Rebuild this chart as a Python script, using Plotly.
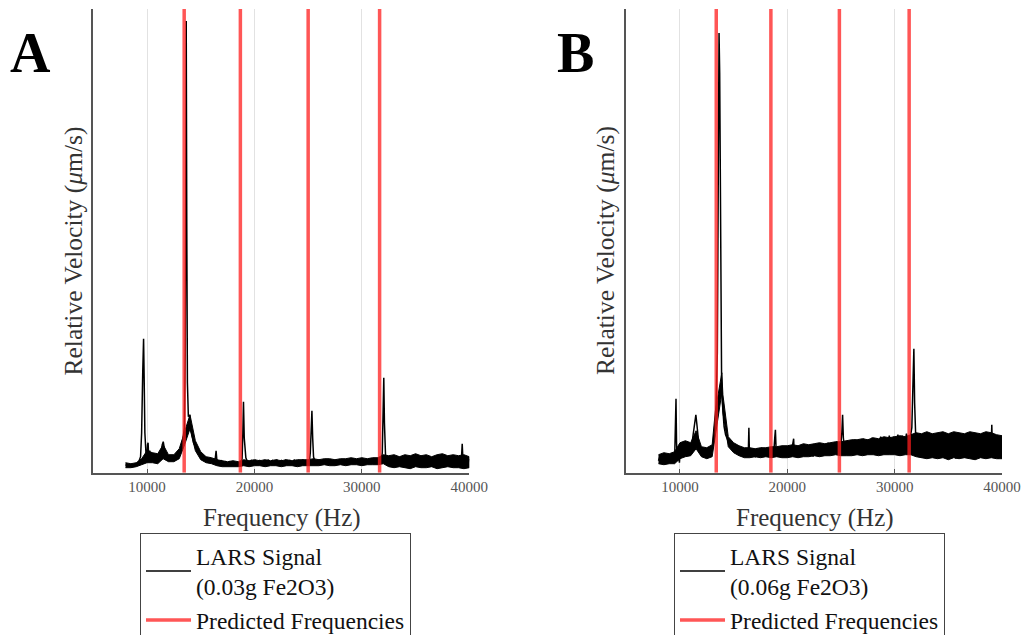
import plotly.graph_objects as go

# ---------------- data ----------------
# LARS signal, panel A (0.03 g Fe2O3): frequency (Hz) and relative velocity
freq_a = [
    8000, 8200, 8400, 8600, 8800, 9000, 9200, 9400, 9500, 9600,
    9680, 9740, 9800, 9900, 10000, 10050, 10100, 10150, 10250, 10350,
    10450, 10550, 10650, 10750, 10850, 10950, 11050, 11150, 11300, 11420,
    11510, 11600, 11700, 11800, 11900, 12000, 12150, 12300, 12450, 12600,
    12750, 12900, 13050, 13200, 13350, 13480, 13560, 13610, 13650, 13700,
    13760, 13850, 13950, 14050, 14200, 14330, 14600, 14800, 15000, 15200,
    15400, 15600, 15800, 16000, 16200, 16350, 16430, 16500, 16700, 16900,
    17100, 17300, 17500, 17700, 17900, 18100, 18300, 18500, 18700, 18850,
    18920, 18980, 19050, 19200, 19350, 19500, 19700, 19900, 20100, 20300,
    20500, 20700, 20900, 21100, 21300, 21500, 21700, 21900, 22100, 22300,
    22500, 22700, 22900, 23100, 23300, 23500, 23700, 23900, 24100, 24300,
    24500, 24700, 24900, 25100, 25200, 25280, 25350, 25420, 25500, 25600,
    25800, 26000, 26200, 26400, 26600, 26800, 27000, 27200, 27400, 27600,
    27800, 28000, 28200, 28400, 28600, 28800, 29000, 29200, 29400, 29600,
    29800, 30000, 30200, 30400, 30600, 30800, 31000, 31200, 31400, 31600,
    31800, 31900, 31980, 32040, 32100, 32200, 32300, 32500, 32700, 32900,
    33100, 33300, 33500, 33700, 33900, 34100, 34300, 34500, 34700, 34900,
    35100, 35300, 35500, 35700, 35900, 36100, 36300, 36500, 36700, 36900,
    37100, 37300, 37500, 37700, 37900, 38100, 38300, 38500, 38700, 38900,
    39100, 39250, 39340, 39420, 39600, 39800, 40000,
]
vel_a = [
    8, 7, 8, 7, 8, 9, 10, 16, 40, 100,
    134, 90, 40, 20, 17, 28, 30, 18, 22, 14,
    20, 13, 19, 14, 18, 12, 17, 15, 20, 28,
    31, 25, 16, 13, 15, 12, 15, 12, 15, 13,
    15, 17, 20, 26, 34, 45, 120, 300, 452, 250,
    90, 56, 58, 45, 36, 30, 24, 20, 18, 16,
    15, 13, 14, 12, 13, 14, 22, 13, 11, 12,
    9, 11, 9, 11, 9, 10, 8, 10, 9, 14,
    40, 71, 35, 15, 11, 9, 12, 8, 12, 9,
    12, 8, 12, 9, 13, 8, 12, 9, 13, 8,
    12, 9, 13, 9, 12, 8, 13, 9, 12, 9,
    13, 9, 12, 10, 20, 45, 62, 35, 16, 12,
    9, 13, 8, 12, 9, 13, 9, 12, 8, 13,
    9, 12, 9, 13, 9, 12, 10, 14, 9, 13,
    10, 14, 9, 13, 10, 14, 9, 14, 10, 15,
    11, 20, 60, 95, 50, 18, 15, 7, 16, 8,
    15, 7, 16, 8, 15, 6, 16, 8, 15, 7,
    16, 8, 15, 7, 16, 8, 15, 6, 16, 8,
    15, 7, 16, 8, 15, 7, 16, 8, 15, 7,
    16, 10, 29, 10, 15, 6, 14,
]

# Noise envelope of signal A (min / max of the dense trace)
band_freq_a = [
    8000, 8500, 9000, 9500, 10000, 10500, 11000, 11500, 12000, 12500,
    13000, 13500, 14000, 14500, 15000, 15500, 16000, 16500, 17000, 17500,
    18000, 18500, 19000, 19500, 20000, 20500, 21000, 21500, 22000, 22500,
    23000, 23500, 24000, 24500, 25000, 25500, 26000, 26500, 27000, 27500,
    28000, 28500, 29000, 29500, 30000, 30500, 31000, 31500, 32000, 32500,
    33000, 33500, 34000, 34500, 35000, 35500, 36000, 36500, 37000, 37500,
    38000, 38500, 39000, 39500, 40000,
]
band_lo_a = [
    5, 5, 6, 8, 10, 10, 9, 14, 11, 11,
    14, 28, 44, 22, 13, 10, 9, 7, 6, 6,
    6, 6, 7, 6, 7, 7, 6, 7, 7, 6,
    7, 7, 6, 7, 7, 7, 7, 8, 7, 7,
    8, 7, 8, 8, 7, 8, 8, 8, 9, 6,
    5, 6, 5, 4, 6, 5, 5, 6, 4, 5,
    6, 5, 5, 4, 5,
]
band_hi_a = [
    10, 9, 10, 14, 22, 20, 19, 28, 18, 18,
    24, 42, 58, 32, 21, 16, 15, 13, 12, 11,
    12, 11, 13, 12, 13, 12, 13, 12, 13, 12,
    13, 12, 13, 13, 13, 14, 13, 14, 14, 13,
    14, 14, 15, 14, 15, 14, 15, 15, 18, 17,
    18, 16, 18, 17, 19, 17, 18, 16, 18, 19,
    17, 18, 17, 18, 16,
]

# LARS signal, panel B (0.06 g Fe2O3)
freq_b = [
    8000, 8150, 8300, 8450, 8600, 8750, 8900, 9050, 9200, 9350,
    9500, 9580, 9630, 9680, 9750, 9850, 9950, 10050, 10150, 10250,
    10350, 10450, 10550, 10650, 10750, 10850, 10950, 11050, 11200, 11350,
    11480, 11580, 11700, 11800, 11900, 12000, 12150, 12300, 12450, 12600,
    12750, 12900, 13050, 13200, 13340, 13480, 13580, 13640, 13700, 13760,
    13820, 13880, 13950, 14110, 14250, 14400, 14550, 14800, 15000, 15300,
    15650, 15900, 16100, 16300, 16370, 16420, 16470, 16600, 16800, 16900,
    17000, 17200, 17400, 17600, 17800, 18000, 18200, 18400, 18600, 18750,
    18830, 18890, 18950, 19050, 19250, 19450, 19650, 19850, 20050, 20250,
    20450, 20540, 20590, 20640, 20800, 21000, 21200, 21400, 21600, 21800,
    22000, 22200, 22400, 22600, 22800, 23000, 23200, 23400, 23600, 23800,
    24000, 24200, 24400, 24600, 24800, 25000, 25080, 25150, 25220, 25350,
    25500, 25700, 25900, 26100, 26300, 26500, 26700, 26900, 27100, 27300,
    27500, 27700, 27900, 28100, 28300, 28500, 28700, 28900, 29100, 29300,
    29500, 29700, 29900, 30100, 30300, 30500, 30700, 30900, 31100, 31300,
    31500, 31600, 31720, 31790, 31860, 31950, 32100, 32300, 32500, 32700,
    32900, 33100, 33300, 33500, 33700, 33900, 34100, 34300, 34500, 34700,
    34900, 35100, 35300, 35500, 35700, 35900, 36100, 36300, 36500, 36700,
    36900, 37100, 37300, 37500, 37700, 37900, 38100, 38300, 38500, 38700,
    38900, 39000, 39050, 39100, 39250, 39450, 39650, 39850, 40000,
]
vel_b = [
    12, 17, 10, 16, 9, 15, 10, 16, 11, 17,
    12, 40, 74, 30, 12, 18, 10, 25, 30, 20,
    27, 19, 26, 18, 24, 20, 28, 24, 35, 50,
    58, 48, 30, 24, 19, 22, 17, 23, 16, 21,
    18, 22, 26, 36, 56, 120, 300, 440, 400, 250,
    130, 90, 70, 46, 38, 33, 30, 27, 25, 23,
    21, 17, 24, 16, 22, 45, 19, 16, 24, 17,
    16, 24, 17, 25, 16, 24, 17, 25, 17, 22,
    35, 43, 25, 16, 24, 16, 25, 16, 26, 17,
    25, 30, 34, 20, 17, 26, 16, 27, 17, 26,
    17, 28, 16, 27, 18, 29, 17, 28, 19, 30,
    18, 29, 20, 31, 19, 30, 40, 58, 35, 22,
    31, 20, 32, 21, 33, 20, 32, 22, 34, 21,
    33, 23, 35, 22, 34, 24, 36, 23, 35, 24,
    37, 23, 36, 25, 38, 24, 37, 26, 39, 25,
    38, 45, 95, 124, 70, 40, 26, 39, 15, 38,
    16, 39, 15, 37, 17, 39, 14, 38, 16, 39,
    15, 37, 17, 39, 14, 38, 16, 37, 15, 39,
    17, 38, 14, 37, 16, 39, 15, 38, 17, 37,
    15, 30, 48, 25, 16, 37, 14, 36, 18,
]

band_freq_b = [
    8000, 8500, 9000, 9500, 10000, 10500, 11000, 11500, 12000, 12500,
    13000, 13300, 13900, 14000, 14500, 15000, 15500, 16000, 16500, 17000,
    17500, 18000, 18500, 19000, 19500, 20000, 20500, 21000, 21500, 22000,
    22500, 23000, 23500, 24000, 24500, 25000, 25500, 26000, 26500, 27000,
    27500, 28000, 28500, 29000, 29500, 30000, 30500, 31000, 31500, 32000,
    32500, 33000, 33500, 34000, 34500, 35000, 35500, 36000, 36500, 37000,
    37500, 38000, 38500, 39000, 39500, 40000,
]
band_lo_b = [
    9, 8, 9, 9, 14, 16, 17, 24, 16, 14,
    16, 40, 80, 60, 26, 20, 17, 15, 15, 16,
    15, 16, 15, 16, 15, 15, 16, 15, 16, 16,
    17, 16, 17, 17, 18, 17, 17, 17, 18, 17,
    18, 18, 17, 18, 18, 18, 17, 18, 18, 16,
    15, 14, 15, 14, 15, 13, 15, 14, 15, 14,
    13, 15, 14, 15, 14, 14,
]
band_hi_b = [
    18, 20, 19, 21, 30, 32, 30, 42, 26, 25,
    28, 62, 100, 78, 36, 30, 27, 25, 25, 24,
    25, 25, 26, 26, 27, 27, 28, 27, 29, 28,
    29, 30, 29, 30, 31, 31, 32, 33, 33, 34,
    33, 35, 34, 36, 35, 36, 37, 36, 38, 40,
    39, 41, 39, 40, 41, 39, 41, 40, 39, 41,
    40, 39, 41, 40, 38, 37,
]

predicted_a = [13460, 18690, 25000, 31650]
predicted_b = [13380, 18470, 24850, 31350]

x_ticks = [10000, 20000, 30000, 40000]
y_max = 464

panel_labels = ["A", "B"]
legend_labels = ["(0.03g Fe2O3)", "(0.06g Fe2O3)"]
x_title = "Frequency (Hz)"
y_title = "Relative Velocity (<i>μ</i>m/s)"

assert len(freq_a) == len(vel_a) and len(freq_b) == len(vel_b)
assert len(band_freq_a) == len(band_lo_a) == len(band_hi_a)
assert len(band_freq_b) == len(band_lo_b) == len(band_hi_b)

# ---------------- figure ----------------
FONT = "Liberation Serif"
RED = "rgba(255, 30, 30, 0.75)"
W, H = 1025, 635


def vlines(xs):
    xx, yy = [], []
    for x in xs:
        xx += [x, x, None]
        yy += [0, y_max, None]
    return xx, yy


fig = go.Figure()

panels = [
    ("x", "y", "legend", freq_a, vel_a, band_freq_a, band_lo_a, band_hi_a, predicted_a, legend_labels[0]),
    ("x2", "y2", "legend2", freq_b, vel_b, band_freq_b, band_lo_b, band_hi_b, predicted_b, legend_labels[1]),
]
for xa, ya, lg, fx, vy, bf, blo, bhi, pred, label in panels:
    # noise band (envelope of the dense signal)
    fig.add_trace(go.Scatter(
        x=list(bf) + list(bf)[::-1], y=list(bhi) + list(blo)[::-1],
        xaxis=xa, yaxis=ya, mode="lines", fill="toself",
        fillcolor="black", line=dict(color="black", width=1),
        showlegend=False, hoverinfo="skip", legend=lg,
    ))
    fig.add_trace(go.Scatter(
        x=fx, y=vy, xaxis=xa, yaxis=ya, mode="lines",
        line=dict(color="black", width=1.5),
        name="LARS Signal<br>" + label, legend=lg,
    ))
    px, py = vlines(pred)
    fig.add_trace(go.Scatter(
        x=px, y=py, xaxis=xa, yaxis=ya, mode="lines",
        line=dict(color=RED, width=3.5),
        name="Predicted Frequencies", legend=lg,
    ))

xcommon = dict(
    range=[5000, 40000], tickvals=x_ticks, tickformat="d",
    showgrid=True, gridcolor="#e2e2e2", gridwidth=1,
    showline=True, linecolor="#555", linewidth=1.5,
    ticks="inside", ticklen=4, tickcolor="#555",
    tickfont=dict(family=FONT, size=15, color="#555"),
    zeroline=False, fixedrange=True, automargin=False,
)
ycommon = dict(
    range=[0, y_max], domain=[1 - 472.7 / H, 1 - 9 / H],
    showticklabels=False, ticks="", showgrid=False, automargin=False,
    showline=True, linecolor="#555", linewidth=1.5, zeroline=False, fixedrange=True,
)

legcommon = dict(
    yanchor="top", xanchor="left", y=1 - 533 / H,
    bgcolor="white", bordercolor="#444", borderwidth=1,
    font=dict(family=FONT, size=23.5, color="#111"),
    itemwidth=45, tracegroupgap=0,
)

title_font_x = dict(family=FONT, size=25, color="#333")
title_font_y = dict(family=FONT, size=25.5, color="#333")
annotations = []
for lab, lx, xt_x, yt_x in [(panel_labels[0], 30, 282, 72.5), (panel_labels[1], 575, 815, 605)]:
    annotations.append(dict(
        text="<b>" + lab + "</b>", x=lx / W, y=1 - 53 / H, xref="paper", yref="paper",
        xanchor="center", yanchor="middle", showarrow=False,
        font=dict(family=FONT, size=56, color="black")))
    annotations.append(dict(
        text=x_title, x=xt_x / W, y=1 - 518 / H, xref="paper", yref="paper",
        xanchor="center", yanchor="middle", showarrow=False, font=title_font_x))
    annotations.append(dict(
        text=y_title, x=yt_x / W, y=1 - 251 / H, xref="paper", yref="paper",
        xanchor="center", yanchor="middle", textangle=-90, showarrow=False, font=title_font_y))

fig.update_layout(
    template="none",
    width=W, height=H,
    margin=dict(l=0, r=0, t=0, b=0, pad=0, autoexpand=False),
    paper_bgcolor="white", plot_bgcolor="white",
    showlegend=True,
    xaxis=dict(domain=[93.3 / W, 469.3 / W], anchor="y", **xcommon),
    yaxis=dict(anchor="x", **ycommon),
    xaxis2=dict(domain=[626.3 / W, 1002 / W], anchor="y2", **xcommon),
    yaxis2=dict(anchor="x2", **ycommon),
    legend=dict(x=140 / W, **legcommon),
    legend2=dict(x=674 / W, **legcommon),
    annotations=annotations,
)

fig.write_html(
    "out.html",
    config={"displayModeBar": False},
    post_script="document.body.style.margin='0';document.body.style.overflow='hidden';",
)
